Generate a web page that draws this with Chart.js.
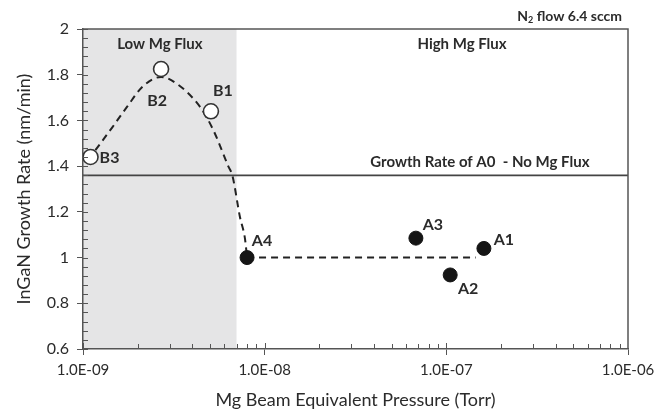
<!DOCTYPE html>
<html>
<head>
<meta charset="utf-8">
<script src="https://cdn.jsdelivr.net/npm/chart.js@4"></script>
<style>
html, body { margin: 0; background: #fff; }
</style>
</head>
<body>
<canvas id="grafica" width="665" height="412"></canvas>
<script>
// datos
const bPressure = [5.06e-9, 2.69e-9, 1.1e-9]
const bRate = [1.64, 1.825, 1.44]
const bNames = ['B1', 'B2', 'B3']

const aPressure = [1.61e-7, 1.05e-7, 6.8e-8, 8.0e-9]
const aRate = [1.04, 0.924, 1.085, 1.0]
const aNames = ['A1', 'A2', 'A3', 'A4']

// curva punteada (zona Low Mg Flux)
const fitLowX = [1.17e-9, 1.45e-9, 1.75e-9, 2.14e-9, 2.69e-9, 3.29e-9, 4.4e-9, 5.2e-9, 6.3e-9, 6.65e-9, 7.3e-9, 7.8e-9, 8.0e-9]
const fitLowY = [1.47, 1.57, 1.66, 1.75, 1.79, 1.76, 1.66, 1.56, 1.40, 1.357, 1.18, 1.08, 1.0]
// tramo plano (zona High Mg Flux)
const fitHighX = [8.0e-9, 1.45e-7]
const fitHighY = [1.0, 1.0]

const a0Rate = 1.36
const lowFluxEdge = 7.0e-9

const xTicks = [1e-9, 1e-8, 1e-7, 1e-6]
const xTickLabels = ['1.0E-09', '1.0E-08', '1.0E-07', '1.0E-06']
const yTicks = [0.6, 0.8, 1.0, 1.2, 1.4, 1.6, 1.8, 2.0]
const yTickLabels = ['0.6', '0.8', '1', '1.2', '1.4', '1.6', '1.8', '2']

const FONT = 'Lato'
const ink = '#2b2b2b'
const axisColor = '#555'

// offsets de las etiquetas de puntos (px)
const labelOffset = {B1: [12, -20], B2: [-4, 32], B3: [19, 1], A1: [20, -9], A2: [18, 14], A3: [17, -13], A4: [15, -17]}

const toXY = (xs, ys) => xs.map((x, i) => ({x: x, y: ys[i]}))

const decor = {
  id: 'decor',
  beforeDraw(chart) {
    const {ctx, chartArea: a, scales: {x}} = chart
    ctx.save()
    ctx.fillStyle = '#e5e5e6'
    const x0 = x.getPixelForValue(xTicks[0])
    const x1 = x.getPixelForValue(lowFluxEdge)
    ctx.fillRect(x0, a.top, x1 - x0, a.bottom - a.top)
    ctx.restore()
  },
  afterDatasetsDraw(chart) {
    const {ctx, chartArea: a, scales: {x, y}} = chart
    ctx.save()
    // marco
    ctx.strokeStyle = axisColor
    ctx.lineWidth = 1.5
    ctx.beginPath()
    ctx.moveTo(a.left, a.top); ctx.lineTo(a.right, a.top); ctx.lineTo(a.right, a.bottom)
    ctx.stroke()
    // ticks menores hacia adentro
    ctx.lineWidth = 1
    ctx.beginPath()
    for (let v = 0.6; v <= 2.0001; v += 0.04) {
      const py = Math.round(y.getPixelForValue(v)) + 0.5
      ctx.moveTo(a.left, py); ctx.lineTo(a.left + 5, py)
    }
    for (let d = -9; d < -6; d++) {
      for (let m = 1; m <= 9; m++) {
        const px = Math.round(x.getPixelForValue(m * Math.pow(10, d))) + 0.5
        ctx.moveTo(px, a.bottom); ctx.lineTo(px, a.bottom - (m === 1 ? 6 : 5))
      }
    }
    ctx.stroke()
    // textos
    ctx.fillStyle = ink
    ctx.font = 'bold 15px ' + FONT
    ctx.textAlign = 'center'
    ctx.textBaseline = 'middle'
    ctx.fillText('Low Mg Flux', x.getPixelForValue(2.65e-9), y.getPixelForValue(1.934))
    ctx.fillText('High Mg Flux', x.getPixelForValue(1.22e-7), y.getPixelForValue(1.934))
    ctx.fillText('Growth Rate of A0  - No Mg Flux', x.getPixelForValue(1.53e-7), y.getPixelForValue(1.418))
    // etiquetas de puntos
    const names = bNames.concat(aNames)
    const px = bPressure.concat(aPressure)
    const py = bRate.concat(aRate)
    ctx.font = 'bold 16px ' + FONT
    names.forEach((n, i) => {
      const o = labelOffset[n]
      ctx.fillText(n, x.getPixelForValue(px[i]) + o[0], y.getPixelForValue(py[i]) + o[1])
    })
    // N2 flow 6.4 sccm
    ctx.font = 'bold 14px ' + FONT
    const rest = ' flow 6.4 sccm'
    const wRest = ctx.measureText(rest).width
    const wN = ctx.measureText('N').width
    ctx.font = 'bold 9px ' + FONT
    const wSub = ctx.measureText('2').width
    let sx = a.right - 6 - wRest - wSub - wN
    const sy = a.top - 13
    ctx.textAlign = 'left'
    ctx.font = 'bold 14px ' + FONT
    ctx.fillText('N', sx, sy)
    ctx.font = 'bold 9px ' + FONT
    ctx.fillText('2', sx + wN, sy + 4)
    ctx.font = 'bold 14px ' + FONT
    ctx.fillText(rest, sx + wN + wSub, sy)
    ctx.restore()
  }
}

const dash = [7, 5]

new Chart(document.getElementById('grafica'), {
  type: 'scatter',
  data: {
    datasets: [
      {data: toXY(aPressure, aRate), pointRadius: 7, pointBackgroundColor: '#151515', pointBorderColor: '#151515', pointBorderWidth: 1},
      {data: toXY(bPressure, bRate), pointRadius: 7.5, pointBackgroundColor: '#fff', pointBorderColor: '#333', pointBorderWidth: 1.6},
      {data: toXY(fitLowX, fitLowY), showLine: true, pointRadius: 0, borderColor: '#222', borderWidth: 2, borderDash: dash, cubicInterpolationMode: 'monotone'},
      {data: toXY(fitHighX, fitHighY), showLine: true, pointRadius: 0, borderColor: '#222', borderWidth: 2, borderDash: dash},
      {data: [{x: xTicks[0], y: a0Rate}, {x: xTicks[3], y: a0Rate}], showLine: true, pointRadius: 0, borderColor: '#444', borderWidth: 1.8}
    ]
  },
  options: {
    responsive: false,
    animation: false,
    devicePixelRatio: 1,
    layout: {padding: {top: 29, right: 37, left: 0, bottom: 0}},
    plugins: {legend: {display: false}, tooltip: {enabled: false}},
    scales: {
      x: {
        type: 'logarithmic',
        min: xTicks[0],
        max: xTicks[3],
        afterBuildTicks: (s) => { s.ticks = xTicks.map(v => ({value: v})) },
        afterFit: (s) => { s.height = 63 },
        ticks: {
          autoSkip: false, maxRotation: 0, padding: 6, color: ink,
          font: {family: FONT, size: 15},
          callback: (v, i) => xTickLabels[i]
        },
        grid: {drawOnChartArea: false, tickLength: 6, color: axisColor, lineWidth: 1},
        border: {color: axisColor, width: 1.5},
        title: {display: true, text: 'Mg Beam Equivalent Pressure (Torr)', color: ink, font: {family: FONT, size: 18}, padding: {top: 0, bottom: 1}}
      },
      y: {
        min: 0.6,
        max: 2.0,
        afterBuildTicks: (s) => { s.ticks = yTicks.map(v => ({value: v})) },
        afterFit: (s) => { s.width = 83 },
        ticks: {
          autoSkip: false, padding: 8, color: ink,
          font: {family: FONT, size: 16},
          callback: (v, i) => yTickLabels[i]
        },
        grid: {drawOnChartArea: false, tickLength: 6, color: axisColor, lineWidth: 1},
        border: {color: axisColor, width: 1.5},
        title: {display: true, text: 'InGaN Growth Rate (nm/min)', color: ink, font: {family: FONT, size: 18}, padding: {top: 13, bottom: 0}}
      }
    }
  },
  plugins: [decor]
})
</script>
</body>
</html>
